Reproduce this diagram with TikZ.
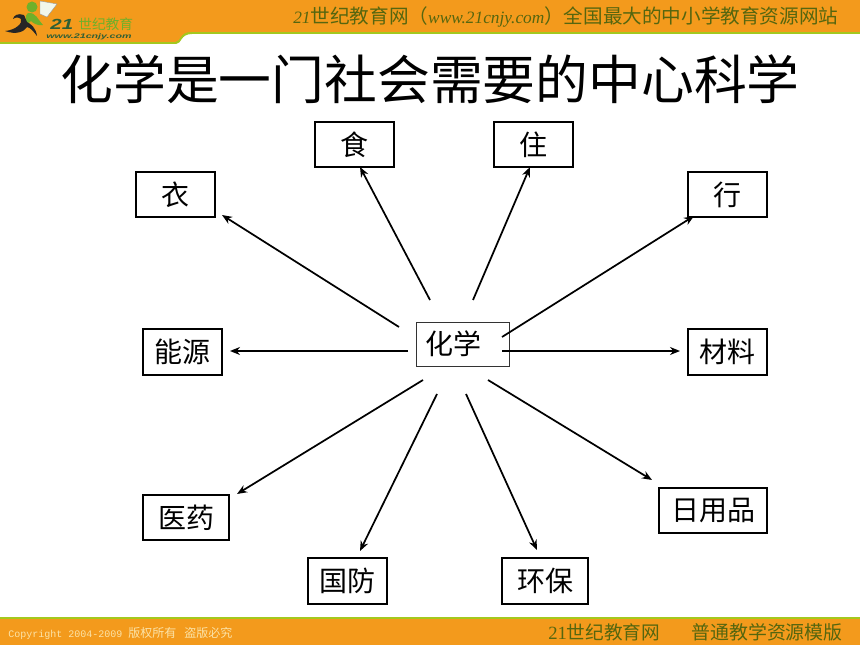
\documentclass[tikz,border=0pt]{standalone}
\usepackage{fontspec}
\setmainfont{Liberation Serif}
\setsansfont{Liberation Sans}
\newfontfamily\cjk{Noto Sans CJK SC}
\newfontfamily\monof{Liberation Mono}
\usetikzlibrary{arrows.meta}
\definecolor{band}{HTML}{F39A1C}
\definecolor{lime}{HTML}{A4C81E}
\definecolor{dgreen}{HTML}{55660F}
\definecolor{cream}{HTML}{FBE3A8}
\definecolor{logog}{HTML}{6FB02A}
\definecolor{logod}{HTML}{2F5F35}
\tikzset{
  x=0.75pt,y=-0.75pt,
  itembox/.style={draw=black,line width=1.6pt,fill=white,inner sep=0pt,font=\cjk\fontsize{21}{21}\selectfont},
  centerbox/.style={draw=black!80,line width=0.6pt,fill=white,inner sep=0pt,font=\cjk\fontsize{21}{21}\selectfont},
  spoke/.style={line width=1.3pt,-{Stealth[length=7.5pt,width=6pt]}},
  bandtext/.style={inner sep=0pt,anchor=west,text=dgreen},
}
\begin{document}
\begin{tikzpicture}
\useasboundingbox (0,0) rectangle (860,645);
\fill[white] (0,0) rectangle (860,645);
% top band
\fill[lime] (0,44) -- (176,44) .. controls (182,44) and (180,34) .. (192,34) -- (860,34) -- (860,0) -- (0,0) -- cycle;
\fill[band] (0,42) -- (175,42) .. controls (181,42) and (179,32) .. (191,32) -- (860,32) -- (860,0) -- (0,0) -- cycle;
% bottom band
\fill[lime] (0,617) rectangle (860,645);
\fill[band] (0,619) rectangle (860,645);
% logo
\fill[white!90!logog,draw=black!40,line width=0.3pt] (40,1) -- (57,4) -- (47,17) -- (40,14) -- cycle;
\fill[logog] (32,7) circle (5.5);
\fill[logog] (28,13) .. controls (36,12) and (38,20) .. (43,25) .. controls (37,26) and (33,23) .. (31,21) -- (25,26) .. controls (27,20) and (24,16) .. (28,13) -- cycle;
\fill[black!85] (24,15) .. controls (18,13) and (14,15) .. (13,19) .. controls (16,17) and (18,17) .. (21,19) .. controls (23,23) and (16,30) .. (5,31) .. controls (16,35) and (24,32) .. (27,27) .. controls (31,28) and (33,31) .. (37,36) .. controls (36,28) and (31,24) .. (27,22) -- cycle;
\node[font=\sffamily\bfseries\itshape\fontsize{11}{11}\selectfont,text=logod,inner sep=0pt,anchor=west,xscale=1.4] (logo21) at (50,24) {21};
\node[font=\cjk\fontsize{10.3}{10.3}\selectfont,text=logog,inner sep=0pt,anchor=west] (logotext) at (78,24) {世纪教育};
\node[font=\sffamily\bfseries\itshape\fontsize{5}{5}\selectfont,text=logod,inner sep=0pt,anchor=west,xscale=1.6] (logourl) at (46,37) {www.21cnjy.com};
% header and footer text
\node[bandtext] (head) at (293,17) {\fontsize{13}{13}\selectfont\textit{21}{\cjk\fontsize{14.7}{14.7}\selectfont 世纪教育网（}\textit{www.21cnjy.com}{\cjk\fontsize{14.7}{14.7}\selectfont ）全国最大的中小学教育资源网站}};
\node[inner sep=0pt,text=cream,anchor=west] (copy) at (8,633) {\monof\fontsize{7.5}{7.5}\selectfont Copyright 2004-2009 {\cjk\fontsize{9}{9}\selectfont 版权所有\hspace{6pt}盗版必究}};
\node[bandtext] (foota) at (548,632) {\fontsize{14}{14}\selectfont 21{\cjk 世纪教育网}};
\node[bandtext,font=\cjk\fontsize{14.2}{14.2}\selectfont] (footb) at (691,632) {普通教学资源模版};
% title
\node[inner sep=0pt,font=\cjk\fontsize{39.6}{39.6}\selectfont] (title) at (430,79) {化学是一门社会需要的中心科学};
% boxes
\node[itembox,minimum width=59.25pt,minimum height=33.75pt] (shi) at (354.5,144.5) {食};
\node[itembox,minimum width=59.25pt,minimum height=33.75pt] (zhu) at (533.5,144.5) {住};
\node[itembox,minimum width=59.25pt,minimum height=33.75pt] (yi) at (175.5,194.5) {衣};
\node[itembox,minimum width=59.25pt,minimum height=33.75pt] (xing) at (727.5,194.5) {行};
\node[itembox,minimum width=59.25pt,minimum height=34.5pt] (neng) at (182.5,352) {能源};
\node[itembox,minimum width=59.25pt,minimum height=34.5pt] (cai) at (727.5,352) {材料};
\node[itembox,minimum width=64.5pt,minimum height=33.75pt] (yao) at (186,517.5) {医药};
\node[itembox,minimum width=81pt,minimum height=33.75pt] (ri) at (713,510.5) {日用品};
\node[itembox,minimum width=59.25pt,minimum height=34.5pt] (guo) at (347.5,581) {国防};
\node[itembox,minimum width=64.5pt,minimum height=34.5pt] (huan) at (545,581) {环保};
\node[centerbox,minimum width=69.75pt,minimum height=33pt] (hua) at (462.5,344) {\raisebox{1.5pt}{化学}\rule{14pt}{0pt}};
% spoke ends
\coordinate (s1) at (399,327); \coordinate (e1) at (222,215);
\coordinate (s2) at (430,300); \coordinate (e2) at (360,167);
\coordinate (s3) at (473,300); \coordinate (e3) at (530,167);
\coordinate (s4) at (502,337); \coordinate (e4) at (694,216);
\coordinate (s5) at (408,351); \coordinate (e5) at (230,351);
\coordinate (s6) at (502,351); \coordinate (e6) at (680,351);
\coordinate (s7) at (423,380); \coordinate (e7) at (237,494);
\coordinate (s8) at (437,394); \coordinate (e8) at (360,551);
\coordinate (s9) at (466,394); \coordinate (e9) at (537,550);
\coordinate (s10) at (488,380); \coordinate (e10) at (652,480);
\foreach \i in {1,...,10} \draw[spoke] (s\i) -- (e\i);
\end{tikzpicture}
\end{document}
